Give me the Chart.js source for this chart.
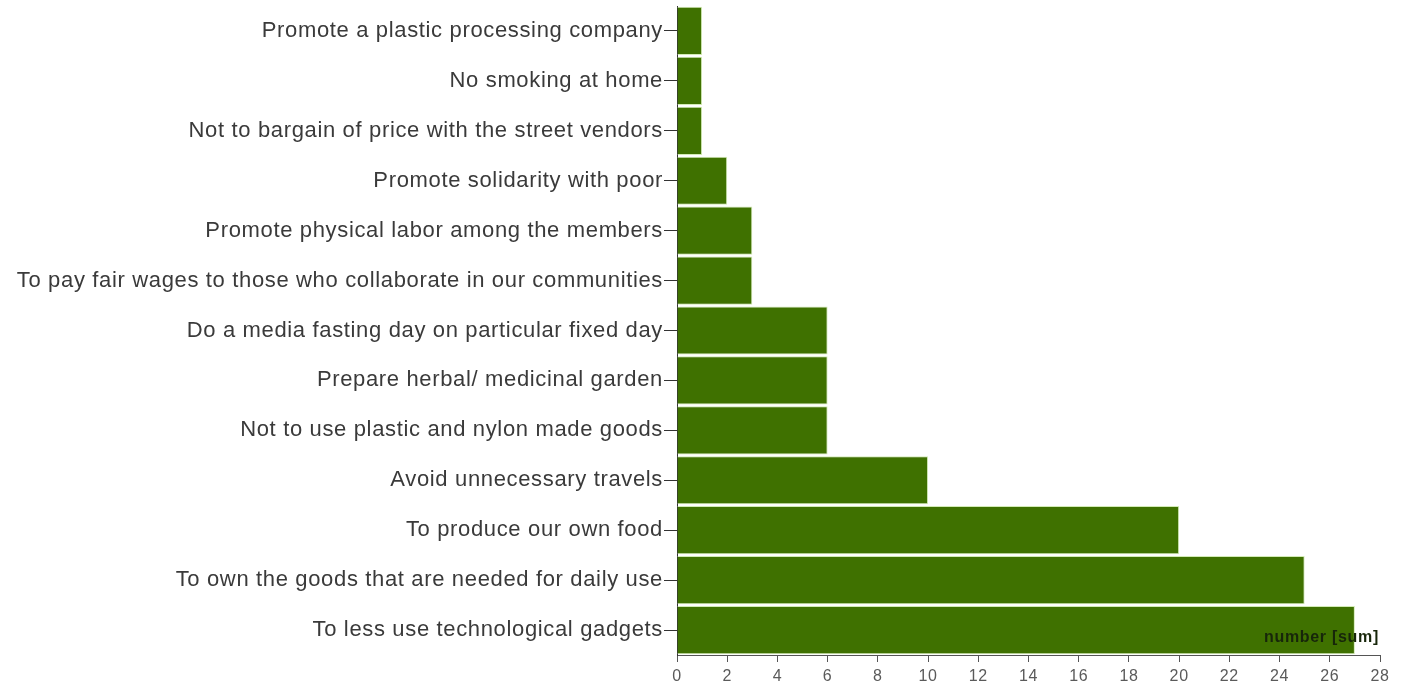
<!DOCTYPE html>
<html>
<head>
<meta charset="utf-8">
<script src="https://cdn.jsdelivr.net/npm/chart.js@4.4.0/dist/chart.umd.min.js"></script>
<style>
  html, body { margin: 0; padding: 0; background: #fff; }
  #wrap { width: 1404px; height: 686px; position: relative; }
</style>
</head>
<body>
<div id="wrap"><canvas id="chart"></canvas></div>
<script>
const categories = [
    'Promote a plastic processing company',
    'No smoking at home',
    'Not to bargain of price with the street vendors',
    'Promote solidarity with poor',
    'Promote physical labor among the members',
    'To pay fair wages to those who collaborate in our communities',
    'Do a media fasting day on particular fixed day',
    'Prepare herbal/ medicinal garden',
    'Not to use plastic and nylon made goods',
    'Avoid unnecessary travels',
    'To produce our own food',
    'To own the goods that are needed for daily use',
    'To less use technological gadgets'
];
const counts = [1, 1, 1, 2, 3, 3, 6, 6, 6, 10, 20, 25, 27];
const axisTitle = 'number [sum]';

const BAR_COLOR = '#3f7100';
const FONT = '"Liberation Sans", Arial, Helvetica, sans-serif';

// the source labels are set wide, so add a little tracking to all canvas text
const tracking = {
    id: 'tracking',
    beforeDraw(chart) {
        chart.ctx.letterSpacing = '0.65px';
    }
};

const cornerLabel = {
    id: 'cornerLabel',
    afterDatasetsDraw(chart) {
        const { ctx, chartArea } = chart;
        ctx.save();
        ctx.letterSpacing = '0.7px';
        ctx.font = 'bold 16px ' + FONT;
        ctx.fillStyle = '#17260a';
        ctx.textAlign = 'right';
        ctx.textBaseline = 'alphabetic';
        ctx.fillText(axisTitle, chartArea.right - 1, chartArea.bottom - 13);
        ctx.restore();
    }
};

const ctx = document.getElementById('chart').getContext('2d');
new Chart(ctx, {
    type: 'bar',
    data: {
        labels: categories,
        datasets: [{
            data: counts,
            backgroundColor: BAR_COLOR,
            borderColor: '#d3ebb6',
            borderWidth: 1,
            barPercentage: 1,
            categoryPercentage: 0.965
        }]
    },
    options: {
        indexAxis: 'y',
        responsive: true,
        maintainAspectRatio: false,
        animation: false,
        layout: { padding: { top: 6, right: 24, bottom: 0, left: 0 } },
        plugins: {
            legend: { display: false },
            tooltip: { enabled: false }
        },
        scales: {
            x: {
                min: 0,
                max: 28,
                ticks: {
                    stepSize: 2,
                    color: '#5a5a5a',
                    font: { family: FONT, size: 16 },
                    padding: 5
                },
                grid: {
                    drawOnChartArea: false,
                    tickLength: 7,
                    tickColor: '#555'
                },
                border: { color: '#555', width: 1 },
                afterFit: scale => { scale.height = 31; }
            },
            y: {
                ticks: {
                    color: '#3a3a3a',
                    font: { family: FONT, size: 22 },
                    padding: 1
                },
                grid: {
                    drawOnChartArea: false,
                    tickLength: 13,
                    tickColor: '#333',
                    offset: false
                },
                border: { color: '#333', width: 1 },
                afterFit: scale => {
                    scale.width = 677;
                    scale.paddingTop = 0;
                    scale.paddingBottom = 0;
                }
            }
        }
    },
    plugins: [tracking, cornerLabel]
});
</script>
</body>
</html>
